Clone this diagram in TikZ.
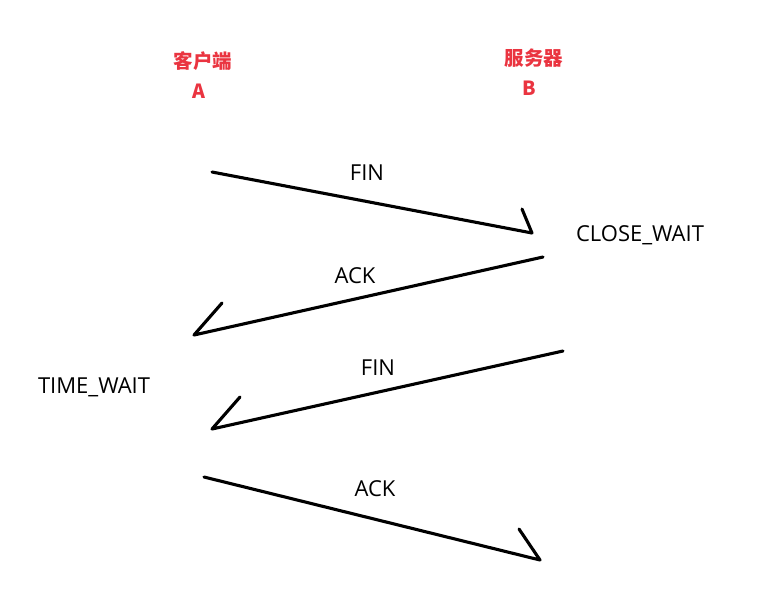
\documentclass[tikz,border=0pt]{standalone}
\usepackage{fontspec}
\setmainfont{Open Sans}
\newfontfamily\cjk{Noto Sans CJK SC}
\definecolor{hdrred}{RGB}{234,52,64}
\begin{document}
\begin{tikzpicture}[x=1pt,y=-1pt,
  msg/.style={line width=3.1pt,line cap=round,line join=round},
  hdr/.style={text=hdrred,font=\cjk\bfseries\fontsize{19.5}{20}\selectfont,inner sep=0pt},
  lbl/.style={font=\fontsize{22}{24}\selectfont,inner sep=0pt}]
\useasboundingbox (0,0) rectangle (762,606);
% column headers
\node[hdr] (ca) at (203,61) {客户端};
\node[hdr] (cb) at (199,91) {A};
\node[hdr] (sa) at (534,58) {服务器};
\node[hdr] (sb) at (529,88) {B};
% message end points and barb ends
\coordinate (f1s) at (212,172); \coordinate (f1e) at (532,233); \coordinate (f1b) at (522,209);
\coordinate (a1s) at (543,257); \coordinate (a1e) at (194,335); \coordinate (a1b) at (222,303);
\coordinate (f2s) at (563,351); \coordinate (f2e) at (212,429); \coordinate (f2b) at (240,397);
\coordinate (a2s) at (204,477); \coordinate (a2e) at (540,560); \coordinate (a2b) at (519,529);
% messages with single-barb heads
\draw[msg] (f1s) -- (f1e) -- (f1b);
\draw[msg] (a1s) -- (a1e) -- (a1b);
\draw[msg] (f2s) -- (f2e) -- (f2b);
\draw[msg] (a2s) -- (a2e) -- (a2b);
% message labels
\node[lbl] (l1) at (367,173) {FIN};
\node[lbl] (l2) at (355,276) {ACK};
\node[lbl] (l3) at (378,368) {FIN};
\node[lbl] (l4) at (375,489) {ACK};
% states
\node[lbl] (cw) at (640,235) {CLOSE\_WAIT};
\node[lbl] (tw) at (94,387) {TIME\_WAIT};
\end{tikzpicture}
\end{document}
